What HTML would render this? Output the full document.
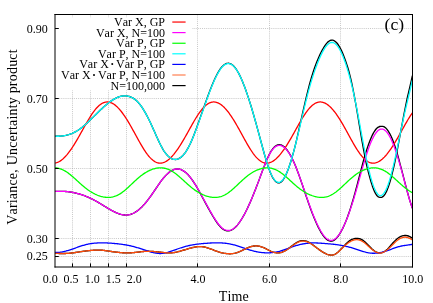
<!DOCTYPE html>
<html><head><meta charset="utf-8"><title>chart</title>
<style>
html,body{margin:0;padding:0;background:#fff;}
body{width:433px;height:303px;position:relative;overflow:hidden;font-family:"Liberation Serif",serif;color:#000;font-kerning:none;}
</style></head><body>
<svg width="433" height="303" viewBox="0 0 433 303" style="position:absolute;left:0;top:0">
<rect x="0" y="0" width="433" height="303" fill="#fff"/>
<path d="M72.50,14.50 V267.00 M90.50,14.50 V267.00 M108.50,14.50 V267.00 M126.50,14.50 V267.00 M197.50,14.50 V267.00 M269.50,14.50 V267.00 M340.50,14.50 V267.00 M55.00,256.50 H412.50 M55.00,238.50 H412.50 M55.00,168.50 H412.50 M55.00,98.50 H412.50 M55.00,28.50 H412.50" stroke="#9a9a9a" stroke-width="1" stroke-dasharray="1 1.1" fill="none" opacity="0.55"/>
<clipPath id="cp"><rect x="55.00" y="14.50" width="357.50" height="252.50"/></clipPath>
<g clip-path="url(#cp)" fill="none" stroke-linejoin="round" stroke-linecap="butt">
<path d="M55.10,191.30 L55.85,191.30 L56.60,191.30 L57.35,191.30 L58.10,191.31 L58.85,191.31 L59.60,191.31 L60.35,191.31 L61.10,191.32 L61.85,191.33 L62.60,191.35 L63.35,191.37 L64.10,191.40 L64.85,191.44 L65.60,191.48 L66.35,191.53 L67.10,191.60 L67.85,191.67 L68.60,191.76 L69.35,191.85 L70.10,191.96 L70.85,192.07 L71.60,192.20 L72.35,192.34 L73.10,192.48 L73.85,192.64 L74.60,192.80 L75.35,192.97 L76.10,193.15 L76.85,193.34 L77.60,193.54 L78.35,193.75 L79.10,193.96 L79.85,194.19 L80.60,194.42 L81.35,194.65 L82.10,194.90 L82.85,195.16 L83.60,195.42 L84.35,195.69 L85.10,195.97 L85.85,196.27 L86.60,196.57 L87.35,196.88 L88.10,197.20 L88.85,197.52 L89.60,197.86 L90.35,198.21 L91.10,198.57 L91.85,198.94 L92.60,199.32 L93.35,199.71 L94.10,200.11 L94.85,200.52 L95.60,200.93 L96.35,201.35 L97.10,201.78 L97.85,202.21 L98.60,202.65 L99.35,203.10 L100.10,203.54 L100.85,204.00 L101.60,204.45 L102.35,204.91 L103.10,205.36 L103.85,205.82 L104.60,206.28 L105.35,206.74 L106.10,207.20 L106.85,207.65 L107.60,208.10 L108.35,208.55 L109.10,208.99 L109.85,209.42 L110.60,209.85 L111.35,210.27 L112.10,210.67 L112.85,211.07 L113.60,211.46 L114.35,211.83 L115.10,212.19 L115.85,212.53 L116.60,212.86 L117.35,213.17 L118.10,213.47 L118.85,213.74 L119.60,213.99 L120.35,214.22 L121.10,214.42 L121.85,214.60 L122.60,214.75 L123.35,214.87 L124.10,214.97 L124.85,215.03 L125.60,215.06 L126.35,215.05 L127.10,215.01 L127.85,214.93 L128.60,214.82 L129.35,214.67 L130.10,214.48 L130.85,214.26 L131.60,214.00 L132.35,213.70 L133.10,213.37 L133.85,213.01 L134.60,212.60 L135.35,212.16 L136.10,211.69 L136.85,211.18 L137.60,210.64 L138.35,210.06 L139.10,209.45 L139.85,208.80 L140.60,208.12 L141.35,207.40 L142.10,206.66 L142.85,205.88 L143.60,205.07 L144.35,204.24 L145.10,203.37 L145.85,202.48 L146.60,201.57 L147.35,200.63 L148.10,199.66 L148.85,198.67 L149.60,197.66 L150.35,196.63 L151.10,195.58 L151.85,194.51 L152.60,193.43 L153.35,192.33 L154.10,191.22 L154.85,190.11 L155.60,189.00 L156.35,187.89 L157.10,186.78 L157.85,185.68 L158.60,184.60 L159.35,183.53 L160.10,182.47 L160.85,181.44 L161.60,180.44 L162.35,179.46 L163.10,178.52 L163.85,177.61 L164.60,176.74 L165.35,175.91 L166.10,175.12 L166.85,174.37 L167.60,173.66 L168.35,172.99 L169.10,172.38 L169.85,171.81 L170.60,171.28 L171.35,170.81 L172.10,170.39 L172.85,170.02 L173.60,169.71 L174.35,169.45 L175.10,169.25 L175.85,169.11 L176.60,169.02 L177.35,168.99 L178.10,169.02 L178.85,169.11 L179.60,169.26 L180.35,169.46 L181.10,169.72 L181.85,170.03 L182.60,170.41 L183.35,170.84 L184.10,171.32 L184.85,171.86 L185.60,172.46 L186.35,173.11 L187.10,173.82 L187.85,174.58 L188.60,175.39 L189.35,176.26 L190.10,177.17 L190.85,178.13 L191.60,179.13 L192.35,180.17 L193.10,181.25 L193.85,182.37 L194.60,183.52 L195.35,184.70 L196.10,185.93 L196.85,187.19 L197.60,188.49 L198.35,189.82 L199.10,191.17 L199.85,192.54 L200.60,193.93 L201.35,195.33 L202.10,196.73 L202.85,198.14 L203.60,199.54 L204.35,200.94 L205.10,202.32 L205.85,203.69 L206.60,205.07 L207.35,206.44 L208.10,207.80 L208.85,209.16 L209.60,210.50 L210.35,211.83 L211.10,213.15 L211.85,214.45 L212.60,215.73 L213.35,216.98 L214.10,218.21 L214.85,219.40 L215.60,220.56 L216.35,221.67 L217.10,222.74 L217.85,223.76 L218.60,224.73 L219.35,225.64 L220.10,226.50 L220.85,227.28 L221.60,227.99 L222.35,228.62 L223.10,229.17 L223.85,229.64 L224.60,230.03 L225.35,230.34 L226.10,230.57 L226.85,230.72 L227.60,230.80 L228.35,230.80 L229.10,230.72 L229.85,230.57 L230.60,230.35 L231.35,230.04 L232.10,229.67 L232.85,229.22 L233.60,228.70 L234.35,228.11 L235.10,227.46 L235.85,226.73 L236.60,225.94 L237.35,225.09 L238.10,224.18 L238.85,223.21 L239.60,222.18 L240.35,221.09 L241.10,219.96 L241.85,218.76 L242.60,217.51 L243.35,216.21 L244.10,214.86 L244.85,213.46 L245.60,212.01 L246.35,210.52 L247.10,208.98 L247.85,207.41 L248.60,205.79 L249.35,204.13 L250.10,202.44 L250.85,200.71 L251.60,198.95 L252.35,197.16 L253.10,195.33 L253.85,193.48 L254.60,191.61 L255.35,189.70 L256.10,187.78 L256.85,185.83 L257.60,183.87 L258.35,181.88 L259.10,179.89 L259.85,177.87 L260.60,175.85 L261.35,173.84 L262.10,171.83 L262.85,169.84 L263.60,167.87 L264.35,165.92 L265.10,164.01 L265.85,162.15 L266.60,160.34 L267.35,158.60 L268.10,156.94 L268.85,155.35 L269.60,153.87 L270.35,152.49 L271.10,151.22 L271.85,150.07 L272.60,149.04 L273.35,148.12 L274.10,147.32 L274.85,146.63 L275.60,146.04 L276.35,145.57 L277.10,145.20 L277.85,144.94 L278.60,144.79 L279.35,144.75 L280.10,144.80 L280.85,144.97 L281.60,145.23 L282.35,145.60 L283.10,146.07 L283.85,146.63 L284.60,147.29 L285.35,148.03 L286.10,148.86 L286.85,149.78 L287.60,150.77 L288.35,151.85 L289.10,153.00 L289.85,154.24 L290.60,155.55 L291.35,156.94 L292.10,158.41 L292.85,159.96 L293.60,161.58 L294.35,163.27 L295.10,165.03 L295.85,166.86 L296.60,168.76 L297.35,170.72 L298.10,172.73 L298.85,174.79 L299.60,176.89 L300.35,179.02 L301.10,181.18 L301.85,183.37 L302.60,185.58 L303.35,187.79 L304.10,190.02 L304.85,192.24 L305.60,194.46 L306.35,196.67 L307.10,198.86 L307.85,201.04 L308.60,203.19 L309.35,205.31 L310.10,207.40 L310.85,209.46 L311.60,211.48 L312.35,213.45 L313.10,215.38 L313.85,217.26 L314.60,219.09 L315.35,220.86 L316.10,222.57 L316.85,224.22 L317.60,225.81 L318.35,227.34 L319.10,228.81 L319.85,230.21 L320.60,231.54 L321.35,232.79 L322.10,233.98 L322.85,235.08 L323.60,236.10 L324.35,237.04 L325.10,237.89 L325.85,238.65 L326.60,239.31 L327.35,239.87 L328.10,240.34 L328.85,240.70 L329.60,240.95 L330.35,241.10 L331.10,241.13 L331.85,241.05 L332.60,240.86 L333.35,240.55 L334.10,240.13 L334.85,239.60 L335.60,238.98 L336.35,238.25 L337.10,237.42 L337.85,236.50 L338.60,235.49 L339.35,234.38 L340.10,233.19 L340.85,231.92 L341.60,230.55 L342.35,229.11 L343.10,227.58 L343.85,225.97 L344.60,224.27 L345.35,222.50 L346.10,220.65 L346.85,218.71 L347.60,216.69 L348.35,214.60 L349.10,212.43 L349.85,210.19 L350.60,207.88 L351.35,205.51 L352.10,203.07 L352.85,200.55 L353.60,197.96 L354.35,195.29 L355.10,192.56 L355.85,189.78 L356.60,186.96 L357.35,184.11 L358.10,181.24 L358.85,178.36 L359.60,175.47 L360.35,172.57 L361.10,169.69 L361.85,166.84 L362.60,164.03 L363.35,161.28 L364.10,158.61 L364.85,156.01 L365.60,153.47 L366.35,151.02 L367.10,148.66 L367.85,146.41 L368.60,144.28 L369.35,142.24 L370.10,140.29 L370.85,138.45 L371.60,136.71 L372.35,135.08 L373.10,133.60 L373.85,132.26 L374.60,131.06 L375.35,129.99 L376.10,129.04 L376.85,128.23 L377.60,127.60 L378.35,127.11 L379.10,126.75 L379.85,126.52 L380.60,126.38 L381.35,126.33 L382.10,126.35 L382.85,126.42 L383.60,126.60 L384.35,126.93 L385.10,127.44 L385.85,128.11 L386.60,128.91 L387.35,129.83 L388.10,130.87 L388.85,132.04 L389.60,133.33 L390.35,134.74 L391.10,136.28 L391.85,137.96 L392.60,139.76 L393.35,141.67 L394.10,143.70 L394.85,145.86 L395.60,148.16 L396.35,150.58 L397.10,153.08 L397.85,155.72 L398.60,158.46 L399.35,161.26 L400.10,164.07 L400.85,166.88 L401.60,169.73 L402.35,172.60 L403.10,175.50 L403.85,178.41 L404.60,181.32 L405.35,184.22 L406.10,187.10 L406.85,189.93 L407.60,192.72 L408.35,195.44 L409.10,198.07 L409.85,200.60 L410.60,203.01 L411.35,205.29 L412.40,208.22" stroke="#000" stroke-width="1.35"/>
<path d="M55.10,136.17 L55.85,136.21 L56.60,136.24 L57.35,136.25 L58.10,136.25 L58.85,136.24 L59.60,136.20 L60.35,136.16 L61.10,136.10 L61.85,136.02 L62.60,135.93 L63.35,135.82 L64.10,135.69 L64.85,135.55 L65.60,135.40 L66.35,135.23 L67.10,135.04 L67.85,134.84 L68.60,134.62 L69.35,134.38 L70.10,134.12 L70.85,133.85 L71.60,133.56 L72.35,133.25 L73.10,132.92 L73.85,132.57 L74.60,132.20 L75.35,131.81 L76.10,131.40 L76.85,130.97 L77.60,130.51 L78.35,130.04 L79.10,129.53 L79.85,129.01 L80.60,128.46 L81.35,127.89 L82.10,127.30 L82.85,126.68 L83.60,126.06 L84.35,125.41 L85.10,124.75 L85.85,124.07 L86.60,123.39 L87.35,122.69 L88.10,121.98 L88.85,121.26 L89.60,120.54 L90.35,119.81 L91.10,119.08 L91.85,118.34 L92.60,117.61 L93.35,116.87 L94.10,116.13 L94.85,115.39 L95.60,114.66 L96.35,113.92 L97.10,113.19 L97.85,112.46 L98.60,111.74 L99.35,111.02 L100.10,110.30 L100.85,109.60 L101.60,108.90 L102.35,108.20 L103.10,107.52 L103.85,106.85 L104.60,106.18 L105.35,105.53 L106.10,104.89 L106.85,104.27 L107.60,103.65 L108.35,103.06 L109.10,102.48 L109.85,101.92 L110.60,101.37 L111.35,100.85 L112.10,100.35 L112.85,99.86 L113.60,99.41 L114.35,98.97 L115.10,98.56 L115.85,98.18 L116.60,97.82 L117.35,97.49 L118.10,97.19 L118.85,96.92 L119.60,96.67 L120.35,96.46 L121.10,96.28 L121.85,96.12 L122.60,96.01 L123.35,95.92 L124.10,95.87 L124.85,95.85 L125.60,95.87 L126.35,95.92 L127.10,96.01 L127.85,96.14 L128.60,96.30 L129.35,96.51 L130.10,96.75 L130.85,97.04 L131.60,97.37 L132.35,97.75 L133.10,98.17 L133.85,98.65 L134.60,99.17 L135.35,99.74 L136.10,100.37 L136.85,101.05 L137.60,101.79 L138.35,102.59 L139.10,103.44 L139.85,104.36 L140.60,105.34 L141.35,106.37 L142.10,107.46 L142.85,108.61 L143.60,109.80 L144.35,111.05 L145.10,112.34 L145.85,113.69 L146.60,115.07 L147.35,116.50 L148.10,117.96 L148.85,119.47 L149.60,121.01 L150.35,122.58 L151.10,124.19 L151.85,125.82 L152.60,127.49 L153.35,129.16 L154.10,130.85 L154.85,132.55 L155.60,134.24 L156.35,135.93 L157.10,137.59 L157.85,139.24 L158.60,140.85 L159.35,142.43 L160.10,143.97 L160.85,145.45 L161.60,146.88 L162.35,148.25 L163.10,149.54 L163.85,150.76 L164.60,151.89 L165.35,152.94 L166.10,153.92 L166.85,154.81 L167.60,155.62 L168.35,156.36 L169.10,157.02 L169.85,157.59 L170.60,158.10 L171.35,158.52 L172.10,158.87 L172.85,159.14 L173.60,159.33 L174.35,159.45 L175.10,159.49 L175.85,159.46 L176.60,159.35 L177.35,159.17 L178.10,158.92 L178.85,158.58 L179.60,158.17 L180.35,157.68 L181.10,157.12 L181.85,156.47 L182.60,155.74 L183.35,154.94 L184.10,154.05 L184.85,153.08 L185.60,152.03 L186.35,150.90 L187.10,149.68 L187.85,148.38 L188.60,146.99 L189.35,145.53 L190.10,144.00 L190.85,142.38 L191.60,140.69 L192.35,138.92 L193.10,137.09 L193.85,135.20 L194.60,133.25 L195.35,131.27 L196.10,129.24 L196.85,127.18 L197.60,125.09 L198.35,122.99 L199.10,120.88 L199.85,118.76 L200.60,116.64 L201.35,114.51 L202.10,112.37 L202.85,110.23 L203.60,108.09 L204.35,105.96 L205.10,103.83 L205.85,101.72 L206.60,99.63 L207.35,97.55 L208.10,95.50 L208.85,93.48 L209.60,91.50 L210.35,89.54 L211.10,87.63 L211.85,85.77 L212.60,83.95 L213.35,82.18 L214.10,80.47 L214.85,78.82 L215.60,77.23 L216.35,75.71 L217.10,74.26 L217.85,72.88 L218.60,71.59 L219.35,70.37 L220.10,69.24 L220.85,68.20 L221.60,67.26 L222.35,66.41 L223.10,65.65 L223.85,65.00 L224.60,64.46 L225.35,64.01 L226.10,63.67 L226.85,63.44 L227.60,63.31 L228.35,63.28 L229.10,63.35 L229.85,63.54 L230.60,63.82 L231.35,64.21 L232.10,64.71 L232.85,65.31 L233.60,66.01 L234.35,66.81 L235.10,67.71 L235.85,68.72 L236.60,69.82 L237.35,71.01 L238.10,72.30 L238.85,73.67 L239.60,75.13 L240.35,76.67 L241.10,78.29 L241.85,80.00 L242.60,81.77 L243.35,83.63 L244.10,85.55 L244.85,87.54 L245.60,89.60 L246.35,91.72 L247.10,93.89 L247.85,96.13 L248.60,98.41 L249.35,100.75 L250.10,103.14 L250.85,105.57 L251.60,108.04 L252.35,110.56 L253.10,113.11 L253.85,115.70 L254.60,118.33 L255.35,120.98 L256.10,123.66 L256.85,126.37 L257.60,129.10 L258.35,131.85 L259.10,134.63 L259.85,137.41 L260.60,140.21 L261.35,143.00 L262.10,145.78 L262.85,148.54 L263.60,151.27 L264.35,153.96 L265.10,156.59 L265.85,159.16 L266.60,161.65 L267.35,164.05 L268.10,166.35 L268.85,168.53 L269.60,170.59 L270.35,172.51 L271.10,174.27 L271.85,175.88 L272.60,177.32 L273.35,178.59 L274.10,179.70 L274.85,180.64 L275.60,181.42 L276.35,182.03 L277.10,182.47 L277.85,182.74 L278.60,182.85 L279.35,182.77 L280.10,182.53 L280.85,182.11 L281.60,181.51 L282.35,180.74 L283.10,179.80 L283.85,178.69 L284.60,177.42 L285.35,176.00 L286.10,174.43 L286.85,172.71 L287.60,170.87 L288.35,168.90 L289.10,166.80 L289.85,164.59 L290.60,162.26 L291.35,159.83 L292.10,157.28 L292.85,154.64 L293.60,151.90 L294.35,149.07 L295.10,146.11 L295.85,143.04 L296.60,139.88 L297.35,136.64 L298.10,133.35 L298.85,130.02 L299.60,126.67 L300.35,123.32 L301.10,119.96 L301.85,116.58 L302.60,113.22 L303.35,109.87 L304.10,106.56 L304.85,103.28 L305.60,100.07 L306.35,96.92 L307.10,93.82 L307.85,90.79 L308.60,87.85 L309.35,84.99 L310.10,82.22 L310.85,79.56 L311.60,77.01 L312.35,74.58 L313.10,72.24 L313.85,69.97 L314.60,67.78 L315.35,65.67 L316.10,63.64 L316.85,61.71 L317.60,59.90 L318.35,58.18 L319.10,56.52 L319.85,54.90 L320.60,53.32 L321.35,51.80 L322.10,50.37 L322.85,49.00 L323.60,47.72 L324.35,46.52 L325.10,45.40 L325.85,44.36 L326.60,43.42 L327.35,42.58 L328.10,41.86 L328.85,41.26 L329.60,40.79 L330.35,40.44 L331.10,40.22 L331.85,40.14 L332.60,40.20 L333.35,40.39 L334.10,40.71 L334.85,41.16 L335.60,41.74 L336.35,42.45 L337.10,43.28 L337.85,44.24 L338.60,45.33 L339.35,46.53 L340.10,47.86 L340.85,49.30 L341.60,50.86 L342.35,52.52 L343.10,54.30 L343.85,56.18 L344.60,58.15 L345.35,60.22 L346.10,62.38 L346.85,64.64 L347.60,67.02 L348.35,69.53 L349.10,72.18 L349.85,75.06 L350.60,78.20 L351.35,81.51 L352.10,84.95 L352.85,88.54 L353.60,92.32 L354.35,96.25 L355.10,100.28 L355.85,104.44 L356.60,108.71 L357.35,113.07 L358.10,117.50 L358.85,122.02 L359.60,126.62 L360.35,131.21 L361.10,135.72 L361.85,140.07 L362.60,144.25 L363.35,148.36 L364.10,152.40 L364.85,156.33 L365.60,160.13 L366.35,163.76 L367.10,167.08 L367.85,170.15 L368.60,173.07 L369.35,175.93 L370.10,178.65 L370.85,181.22 L371.60,183.64 L372.35,185.90 L373.10,187.99 L373.85,189.91 L374.60,191.63 L375.35,193.15 L376.10,194.45 L376.85,195.49 L377.60,196.29 L378.35,196.86 L379.10,197.22 L379.85,197.41 L380.60,197.44 L381.35,197.35 L382.10,197.10 L382.85,196.67 L383.60,196.04 L384.35,195.17 L385.10,194.04 L385.85,192.68 L386.60,191.12 L387.35,189.37 L388.10,187.42 L388.85,185.28 L389.60,182.96 L390.35,180.44 L391.10,177.76 L391.85,174.91 L392.60,171.91 L393.35,168.76 L394.10,165.49 L394.85,162.05 L395.60,158.42 L396.35,154.67 L397.10,150.85 L397.85,146.95 L398.60,142.98 L399.35,138.95 L400.10,134.90 L400.85,130.85 L401.60,126.81 L402.35,122.76 L403.10,118.76 L403.85,114.87 L404.60,111.06 L405.35,107.26 L406.10,103.53 L406.85,99.92 L407.60,96.50 L408.35,93.30 L409.10,90.13 L409.85,86.94 L410.60,83.71 L411.35,80.44 L412.40,75.77" stroke="#000" stroke-width="1.35"/>
<path d="M55.10,253.40 L55.85,253.40 L56.60,253.41 L57.35,253.43 L58.10,253.44 L58.85,253.46 L59.60,253.48 L60.35,253.50 L61.10,253.51 L61.85,253.52 L62.60,253.53 L63.35,253.53 L64.10,253.53 L64.85,253.51 L65.60,253.49 L66.35,253.45 L67.10,253.41 L67.85,253.36 L68.60,253.30 L69.35,253.24 L70.10,253.16 L70.85,253.08 L71.60,253.00 L72.35,252.91 L73.10,252.81 L73.85,252.71 L74.60,252.61 L75.35,252.50 L76.10,252.39 L76.85,252.28 L77.60,252.16 L78.35,252.05 L79.10,251.93 L79.85,251.82 L80.60,251.70 L81.35,251.59 L82.10,251.48 L82.85,251.37 L83.60,251.27 L84.35,251.17 L85.10,251.07 L85.85,250.97 L86.60,250.88 L87.35,250.80 L88.10,250.72 L88.85,250.64 L89.60,250.56 L90.35,250.49 L91.10,250.42 L91.85,250.36 L92.60,250.30 L93.35,250.24 L94.10,250.19 L94.85,250.15 L95.60,250.11 L96.35,250.08 L97.10,250.06 L97.85,250.05 L98.60,250.05 L99.35,250.07 L100.10,250.09 L100.85,250.13 L101.60,250.18 L102.35,250.25 L103.10,250.32 L103.85,250.41 L104.60,250.50 L105.35,250.60 L106.10,250.71 L106.85,250.82 L107.60,250.94 L108.35,251.05 L109.10,251.17 L109.85,251.28 L110.60,251.39 L111.35,251.50 L112.10,251.61 L112.85,251.71 L113.60,251.81 L114.35,251.91 L115.10,252.00 L115.85,252.09 L116.60,252.18 L117.35,252.26 L118.10,252.34 L118.85,252.42 L119.60,252.49 L120.35,252.56 L121.10,252.62 L121.85,252.68 L122.60,252.74 L123.35,252.78 L124.10,252.82 L124.85,252.85 L125.60,252.88 L126.35,252.89 L127.10,252.90 L127.85,252.90 L128.60,252.88 L129.35,252.86 L130.10,252.83 L130.85,252.79 L131.60,252.74 L132.35,252.68 L133.10,252.62 L133.85,252.55 L134.60,252.48 L135.35,252.40 L136.10,252.32 L136.85,252.24 L137.60,252.15 L138.35,252.05 L139.10,251.96 L139.85,251.87 L140.60,251.78 L141.35,251.70 L142.10,251.62 L142.85,251.54 L143.60,251.48 L144.35,251.42 L145.10,251.37 L145.85,251.33 L146.60,251.30 L147.35,251.29 L148.10,251.29 L148.85,251.29 L149.60,251.31 L150.35,251.33 L151.10,251.37 L151.85,251.41 L152.60,251.46 L153.35,251.51 L154.10,251.58 L154.85,251.64 L155.60,251.71 L156.35,251.79 L157.10,251.86 L157.85,251.94 L158.60,252.03 L159.35,252.11 L160.10,252.19 L160.85,252.27 L161.60,252.35 L162.35,252.43 L163.10,252.50 L163.85,252.58 L164.60,252.64 L165.35,252.70 L166.10,252.76 L166.85,252.80 L167.60,252.84 L168.35,252.87 L169.10,252.88 L169.85,252.88 L170.60,252.86 L171.35,252.82 L172.10,252.77 L172.85,252.70 L173.60,252.61 L174.35,252.50 L175.10,252.37 L175.85,252.23 L176.60,252.07 L177.35,251.90 L178.10,251.71 L178.85,251.52 L179.60,251.32 L180.35,251.11 L181.10,250.90 L181.85,250.68 L182.60,250.46 L183.35,250.24 L184.10,250.02 L184.85,249.79 L185.60,249.57 L186.35,249.35 L187.10,249.12 L187.85,248.90 L188.60,248.69 L189.35,248.47 L190.10,248.26 L190.85,248.06 L191.60,247.86 L192.35,247.67 L193.10,247.48 L193.85,247.31 L194.60,247.15 L195.35,247.01 L196.10,246.88 L196.85,246.77 L197.60,246.68 L198.35,246.62 L199.10,246.58 L199.85,246.56 L200.60,246.58 L201.35,246.62 L202.10,246.69 L202.85,246.78 L203.60,246.89 L204.35,247.03 L205.10,247.19 L205.85,247.37 L206.60,247.57 L207.35,247.79 L208.10,248.02 L208.85,248.27 L209.60,248.54 L210.35,248.81 L211.10,249.10 L211.85,249.39 L212.60,249.69 L213.35,249.99 L214.10,250.29 L214.85,250.58 L215.60,250.87 L216.35,251.15 L217.10,251.42 L217.85,251.68 L218.60,251.93 L219.35,252.15 L220.10,252.36 L220.85,252.56 L221.60,252.74 L222.35,252.91 L223.10,253.06 L223.85,253.20 L224.60,253.32 L225.35,253.42 L226.10,253.52 L226.85,253.59 L227.60,253.65 L228.35,253.70 L229.10,253.73 L229.85,253.74 L230.60,253.73 L231.35,253.69 L232.10,253.64 L232.85,253.56 L233.60,253.45 L234.35,253.32 L235.10,253.15 L235.85,252.96 L236.60,252.74 L237.35,252.49 L238.10,252.22 L238.85,251.92 L239.60,251.60 L240.35,251.27 L241.10,250.93 L241.85,250.58 L242.60,250.22 L243.35,249.86 L244.10,249.49 L244.85,249.14 L245.60,248.78 L246.35,248.44 L247.10,248.11 L247.85,247.79 L248.60,247.49 L249.35,247.20 L250.10,246.94 L250.85,246.70 L251.60,246.49 L252.35,246.31 L253.10,246.16 L253.85,246.04 L254.60,245.96 L255.35,245.92 L256.10,245.91 L256.85,245.94 L257.60,246.00 L258.35,246.09 L259.10,246.22 L259.85,246.38 L260.60,246.57 L261.35,246.79 L262.10,247.05 L262.85,247.33 L263.60,247.65 L264.35,247.98 L265.10,248.34 L265.85,248.71 L266.60,249.09 L267.35,249.48 L268.10,249.86 L268.85,250.24 L269.60,250.61 L270.35,250.97 L271.10,251.30 L271.85,251.61 L272.60,251.89 L273.35,252.14 L274.10,252.35 L274.85,252.53 L275.60,252.67 L276.35,252.78 L277.10,252.84 L277.85,252.87 L278.60,252.85 L279.35,252.79 L280.10,252.68 L280.85,252.52 L281.60,252.31 L282.35,252.05 L283.10,251.74 L283.85,251.39 L284.60,251.01 L285.35,250.58 L286.10,250.12 L286.85,249.64 L287.60,249.13 L288.35,248.60 L289.10,248.05 L289.85,247.48 L290.60,246.90 L291.35,246.32 L292.10,245.75 L292.85,245.17 L293.60,244.61 L294.35,244.06 L295.10,243.53 L295.85,243.03 L296.60,242.57 L297.35,242.14 L298.10,241.76 L298.85,241.43 L299.60,241.16 L300.35,240.94 L301.10,240.78 L301.85,240.68 L302.60,240.63 L303.35,240.64 L304.10,240.70 L304.85,240.82 L305.60,240.99 L306.35,241.21 L307.10,241.48 L307.85,241.80 L308.60,242.17 L309.35,242.57 L310.10,243.01 L310.85,243.49 L311.60,243.99 L312.35,244.51 L313.10,245.05 L313.85,245.61 L314.60,246.18 L315.35,246.76 L316.10,247.34 L316.85,247.92 L317.60,248.49 L318.35,249.06 L319.10,249.61 L319.85,250.15 L320.60,250.67 L321.35,251.18 L322.10,251.66 L322.85,252.12 L323.60,252.56 L324.35,252.97 L325.10,253.35 L325.85,253.71 L326.60,254.04 L327.35,254.33 L328.10,254.58 L328.85,254.78 L329.60,254.94 L330.35,255.04 L331.10,255.09 L331.85,255.07 L332.60,254.98 L333.35,254.82 L334.10,254.57 L334.85,254.25 L335.60,253.84 L336.35,253.35 L337.10,252.80 L337.85,252.18 L338.60,251.52 L339.35,250.81 L340.10,250.08 L340.85,249.31 L341.60,248.53 L342.35,247.72 L343.10,246.92 L343.85,246.13 L344.60,245.35 L345.35,244.59 L346.10,243.83 L346.85,243.08 L347.60,242.37 L348.35,241.72 L349.10,241.12 L349.85,240.56 L350.60,240.07 L351.35,239.66 L352.10,239.32 L352.85,239.03 L353.60,238.80 L354.35,238.61 L355.10,238.48 L355.85,238.40 L356.60,238.37 L357.35,238.39 L358.10,238.46 L358.85,238.58 L359.60,238.75 L360.35,238.99 L361.10,239.29 L361.85,239.65 L362.60,240.09 L363.35,240.59 L364.10,241.19 L364.85,241.84 L365.60,242.53 L366.35,243.22 L367.10,243.94 L367.85,244.67 L368.60,245.42 L369.35,246.22 L370.10,247.05 L370.85,247.85 L371.60,248.60 L372.35,249.27 L373.10,249.88 L373.85,250.46 L374.60,250.99 L375.35,251.47 L376.10,251.89 L376.85,252.24 L377.60,252.53 L378.35,252.75 L379.10,252.88 L379.85,252.94 L380.60,252.90 L381.35,252.78 L382.10,252.57 L382.85,252.29 L383.60,251.94 L384.35,251.51 L385.10,251.03 L385.85,250.49 L386.60,249.88 L387.35,249.19 L388.10,248.44 L388.85,247.63 L389.60,246.78 L390.35,245.91 L391.10,245.03 L391.85,244.17 L392.60,243.31 L393.35,242.47 L394.10,241.65 L394.85,240.87 L395.60,240.13 L396.35,239.43 L397.10,238.79 L397.85,238.21 L398.60,237.68 L399.35,237.20 L400.10,236.79 L400.85,236.42 L401.60,236.12 L402.35,235.87 L403.10,235.69 L403.85,235.55 L404.60,235.46 L405.35,235.43 L406.10,235.47 L406.85,235.57 L407.60,235.74 L408.35,235.99 L409.10,236.29 L409.85,236.64 L410.60,237.05 L411.35,237.59 L412.40,238.51" stroke="#000" stroke-width="1.35"/>
<path d="M55.10,163.02 L55.85,162.88 L56.60,162.69 L57.35,162.43 L58.10,162.12 L58.85,161.76 L59.60,161.34 L60.35,160.88 L61.10,160.36 L61.85,159.79 L62.60,159.17 L63.35,158.51 L64.10,157.80 L64.85,157.05 L65.60,156.26 L66.35,155.42 L67.10,154.55 L67.85,153.63 L68.60,152.68 L69.35,151.69 L70.10,150.66 L70.85,149.61 L71.60,148.52 L72.35,147.40 L73.10,146.25 L73.85,145.07 L74.60,143.87 L75.35,142.64 L76.10,141.39 L76.85,140.12 L77.60,138.83 L78.35,137.53 L79.10,136.21 L79.85,134.88 L80.60,133.54 L81.35,132.19 L82.10,130.84 L82.85,129.49 L83.60,128.14 L84.35,126.80 L85.10,125.46 L85.85,124.13 L86.60,122.81 L87.35,121.51 L88.10,120.23 L88.85,118.98 L89.60,117.75 L90.35,116.54 L91.10,115.37 L91.85,114.23 L92.60,113.13 L93.35,112.07 L94.10,111.06 L94.85,110.08 L95.60,109.16 L96.35,108.28 L97.10,107.46 L97.85,106.68 L98.60,105.97 L99.35,105.30 L100.10,104.70 L100.85,104.16 L101.60,103.67 L102.35,103.24 L103.10,102.88 L103.85,102.58 L104.60,102.33 L105.35,102.15 L106.10,102.03 L106.85,101.97 L107.60,101.97 L108.35,102.03 L109.10,102.15 L109.85,102.33 L110.60,102.56 L111.35,102.85 L112.10,103.20 L112.85,103.60 L113.60,104.06 L114.35,104.56 L115.10,105.12 L115.85,105.73 L116.60,106.39 L117.35,107.09 L118.10,107.84 L118.85,108.64 L119.60,109.47 L120.35,110.35 L121.10,111.28 L121.85,112.24 L122.60,113.24 L123.35,114.27 L124.10,115.34 L124.85,116.45 L125.60,117.58 L126.35,118.75 L127.10,119.95 L127.85,121.17 L128.60,122.42 L129.35,123.69 L130.10,124.98 L130.85,126.29 L131.60,127.62 L132.35,128.96 L133.10,130.31 L133.85,131.67 L134.60,133.04 L135.35,134.41 L136.10,135.78 L136.85,137.15 L137.60,138.52 L138.35,139.87 L139.10,141.21 L139.85,142.54 L140.60,143.85 L141.35,145.14 L142.10,146.41 L142.85,147.65 L143.60,148.85 L144.35,150.03 L145.10,151.17 L145.85,152.27 L146.60,153.32 L147.35,154.34 L148.10,155.30 L148.85,156.22 L149.60,157.08 L150.35,157.90 L151.10,158.66 L151.85,159.36 L152.60,160.00 L153.35,160.59 L154.10,161.11 L154.85,161.58 L155.60,161.98 L156.35,162.33 L157.10,162.61 L157.85,162.83 L158.60,162.99 L159.35,163.09 L160.10,163.13 L160.85,163.11 L161.60,163.02 L162.35,162.89 L163.10,162.69 L163.85,162.44 L164.60,162.13 L165.35,161.77 L166.10,161.35 L166.85,160.88 L167.60,160.37 L168.35,159.80 L169.10,159.18 L169.85,158.52 L170.60,157.82 L171.35,157.06 L172.10,156.27 L172.85,155.43 L173.60,154.56 L174.35,153.64 L175.10,152.69 L175.85,151.70 L176.60,150.68 L177.35,149.62 L178.10,148.53 L178.85,147.41 L179.60,146.26 L180.35,145.09 L181.10,143.88 L181.85,142.66 L182.60,141.41 L183.35,140.14 L184.10,138.85 L184.85,137.55 L185.60,136.23 L186.35,134.90 L187.10,133.56 L187.85,132.21 L188.60,130.86 L189.35,129.51 L190.10,128.16 L190.85,126.82 L191.60,125.48 L192.35,124.15 L193.10,122.83 L193.85,121.53 L194.60,120.25 L195.35,119.00 L196.10,117.76 L196.85,116.56 L197.60,115.39 L198.35,114.25 L199.10,113.15 L199.85,112.09 L200.60,111.07 L201.35,110.10 L202.10,109.17 L202.85,108.29 L203.60,107.47 L204.35,106.69 L205.10,105.98 L205.85,105.31 L206.60,104.71 L207.35,104.16 L208.10,103.68 L208.85,103.25 L209.60,102.88 L210.35,102.58 L211.10,102.34 L211.85,102.15 L212.60,102.03 L213.35,101.97 L214.10,101.97 L214.85,102.03 L215.60,102.15 L216.35,102.32 L217.10,102.56 L217.85,102.85 L218.60,103.20 L219.35,103.60 L220.10,104.05 L220.85,104.56 L221.60,105.11 L222.35,105.72 L223.10,106.38 L223.85,107.08 L224.60,107.83 L225.35,108.62 L226.10,109.46 L226.85,110.34 L227.60,111.26 L228.35,112.22 L229.10,113.22 L229.85,114.26 L230.60,115.33 L231.35,116.43 L232.10,117.57 L232.85,118.73 L233.60,119.93 L234.35,121.15 L235.10,122.40 L235.85,123.67 L236.60,124.96 L237.35,126.27 L238.10,127.60 L238.85,128.94 L239.60,130.29 L240.35,131.65 L241.10,133.02 L241.85,134.39 L242.60,135.76 L243.35,137.13 L244.10,138.50 L244.85,139.85 L245.60,141.19 L246.35,142.52 L247.10,143.83 L247.85,145.12 L248.60,146.39 L249.35,147.63 L250.10,148.84 L250.85,150.01 L251.60,151.15 L252.35,152.25 L253.10,153.31 L253.85,154.32 L254.60,155.29 L255.35,156.21 L256.10,157.07 L256.85,157.89 L257.60,158.64 L258.35,159.35 L259.10,159.99 L259.85,160.58 L260.60,161.11 L261.35,161.57 L262.10,161.98 L262.85,162.32 L263.60,162.61 L264.35,162.83 L265.10,162.99 L265.85,163.09 L266.60,163.13 L267.35,163.11 L268.10,163.03 L268.85,162.89 L269.60,162.69 L270.35,162.44 L271.10,162.13 L271.85,161.77 L272.60,161.36 L273.35,160.89 L274.10,160.37 L274.85,159.81 L275.60,159.19 L276.35,158.53 L277.10,157.83 L277.85,157.08 L278.60,156.28 L279.35,155.45 L280.10,154.57 L280.85,153.66 L281.60,152.71 L282.35,151.72 L283.10,150.69 L283.85,149.64 L284.60,148.55 L285.35,147.43 L286.10,146.28 L286.85,145.10 L287.60,143.90 L288.35,142.68 L289.10,141.43 L289.85,140.16 L290.60,138.87 L291.35,137.57 L292.10,136.25 L292.85,134.92 L293.60,133.58 L294.35,132.23 L295.10,130.88 L295.85,129.53 L296.60,128.18 L297.35,126.84 L298.10,125.50 L298.85,124.17 L299.60,122.85 L300.35,121.55 L301.10,120.27 L301.85,119.01 L302.60,117.78 L303.35,116.58 L304.10,115.41 L304.85,114.27 L305.60,113.17 L306.35,112.11 L307.10,111.09 L307.85,110.11 L308.60,109.18 L309.35,108.31 L310.10,107.48 L310.85,106.71 L311.60,105.99 L312.35,105.32 L313.10,104.72 L313.85,104.17 L314.60,103.68 L315.35,103.26 L316.10,102.89 L316.85,102.58 L317.60,102.34 L318.35,102.16 L319.10,102.03 L319.85,101.97 L320.60,101.97 L321.35,102.03 L322.10,102.15 L322.85,102.32 L323.60,102.55 L324.35,102.84 L325.10,103.19 L325.85,103.59 L326.60,104.04 L327.35,104.55 L328.10,105.11 L328.85,105.71 L329.60,106.37 L330.35,107.07 L331.10,107.82 L331.85,108.61 L332.60,109.45 L333.35,110.33 L334.10,111.25 L334.85,112.21 L335.60,113.21 L336.35,114.24 L337.10,115.31 L337.85,116.41 L338.60,117.55 L339.35,118.72 L340.10,119.91 L340.85,121.13 L341.60,122.38 L342.35,123.65 L343.10,124.94 L343.85,126.25 L344.60,127.58 L345.35,128.92 L346.10,130.27 L346.85,131.63 L347.60,133.00 L348.35,134.37 L349.10,135.74 L349.85,137.11 L350.60,138.47 L351.35,139.83 L352.10,141.17 L352.85,142.50 L353.60,143.81 L354.35,145.11 L355.10,146.37 L355.85,147.61 L356.60,148.82 L357.35,149.99 L358.10,151.13 L358.85,152.23 L359.60,153.29 L360.35,154.31 L361.10,155.27 L361.85,156.19 L362.60,157.06 L363.35,157.87 L364.10,158.63 L364.85,159.34 L365.60,159.98 L366.35,160.57 L367.10,161.10 L367.85,161.57 L368.60,161.97 L369.35,162.32 L370.10,162.60 L370.85,162.83 L371.60,162.99 L372.35,163.09 L373.10,163.13 L373.85,163.11 L374.60,163.03 L375.35,162.89 L376.10,162.70 L376.85,162.44 L377.60,162.14 L378.35,161.78 L379.10,161.36 L379.85,160.90 L380.60,160.38 L381.35,159.82 L382.10,159.20 L382.85,158.54 L383.60,157.84 L384.35,157.09 L385.10,156.29 L385.85,155.46 L386.60,154.59 L387.35,153.67 L388.10,152.72 L388.85,151.73 L389.60,150.71 L390.35,149.65 L391.10,148.57 L391.85,147.45 L392.60,146.30 L393.35,145.12 L394.10,143.92 L394.85,142.69 L395.60,141.45 L396.35,140.18 L397.10,138.89 L397.85,137.59 L398.60,136.27 L399.35,134.94 L400.10,133.60 L400.85,132.25 L401.60,130.90 L402.35,129.55 L403.10,128.20 L403.85,126.86 L404.60,125.52 L405.35,124.19 L406.10,122.87 L406.85,121.57 L407.60,120.29 L408.35,119.03 L409.10,117.80 L409.85,116.60 L410.60,115.42 L411.35,114.28 L412.40,112.75" stroke="#ff0000" stroke-width="1.30"/>
<path d="M55.10,191.30 L55.85,191.30 L56.60,191.30 L57.35,191.30 L58.10,191.31 L58.85,191.31 L59.60,191.31 L60.35,191.31 L61.10,191.32 L61.85,191.33 L62.60,191.35 L63.35,191.37 L64.10,191.40 L64.85,191.44 L65.60,191.48 L66.35,191.53 L67.10,191.60 L67.85,191.67 L68.60,191.76 L69.35,191.85 L70.10,191.96 L70.85,192.07 L71.60,192.20 L72.35,192.34 L73.10,192.48 L73.85,192.64 L74.60,192.80 L75.35,192.97 L76.10,193.15 L76.85,193.34 L77.60,193.54 L78.35,193.75 L79.10,193.96 L79.85,194.19 L80.60,194.42 L81.35,194.65 L82.10,194.90 L82.85,195.16 L83.60,195.42 L84.35,195.69 L85.10,195.97 L85.85,196.27 L86.60,196.57 L87.35,196.88 L88.10,197.20 L88.85,197.52 L89.60,197.86 L90.35,198.21 L91.10,198.57 L91.85,198.94 L92.60,199.32 L93.35,199.71 L94.10,200.11 L94.85,200.52 L95.60,200.93 L96.35,201.35 L97.10,201.78 L97.85,202.21 L98.60,202.65 L99.35,203.10 L100.10,203.54 L100.85,204.00 L101.60,204.45 L102.35,204.91 L103.10,205.36 L103.85,205.82 L104.60,206.28 L105.35,206.74 L106.10,207.20 L106.85,207.65 L107.60,208.10 L108.35,208.55 L109.10,208.99 L109.85,209.42 L110.60,209.85 L111.35,210.27 L112.10,210.67 L112.85,211.07 L113.60,211.46 L114.35,211.83 L115.10,212.19 L115.85,212.53 L116.60,212.86 L117.35,213.17 L118.10,213.47 L118.85,213.74 L119.60,213.99 L120.35,214.22 L121.10,214.42 L121.85,214.60 L122.60,214.75 L123.35,214.87 L124.10,214.97 L124.85,215.03 L125.60,215.06 L126.35,215.05 L127.10,215.01 L127.85,214.93 L128.60,214.82 L129.35,214.67 L130.10,214.48 L130.85,214.26 L131.60,214.00 L132.35,213.70 L133.10,213.37 L133.85,213.01 L134.60,212.60 L135.35,212.16 L136.10,211.69 L136.85,211.18 L137.60,210.64 L138.35,210.06 L139.10,209.45 L139.85,208.80 L140.60,208.12 L141.35,207.40 L142.10,206.66 L142.85,205.88 L143.60,205.07 L144.35,204.24 L145.10,203.37 L145.85,202.48 L146.60,201.57 L147.35,200.63 L148.10,199.66 L148.85,198.67 L149.60,197.66 L150.35,196.63 L151.10,195.58 L151.85,194.51 L152.60,193.43 L153.35,192.33 L154.10,191.22 L154.85,190.11 L155.60,189.00 L156.35,187.89 L157.10,186.78 L157.85,185.68 L158.60,184.60 L159.35,183.53 L160.10,182.47 L160.85,181.44 L161.60,180.44 L162.35,179.46 L163.10,178.52 L163.85,177.61 L164.60,176.74 L165.35,175.91 L166.10,175.12 L166.85,174.37 L167.60,173.66 L168.35,172.99 L169.10,172.38 L169.85,171.81 L170.60,171.28 L171.35,170.81 L172.10,170.39 L172.85,170.02 L173.60,169.71 L174.35,169.45 L175.10,169.25 L175.85,169.11 L176.60,169.02 L177.35,168.99 L178.10,169.02 L178.85,169.11 L179.60,169.26 L180.35,169.46 L181.10,169.72 L181.85,170.03 L182.60,170.41 L183.35,170.84 L184.10,171.32 L184.85,171.86 L185.60,172.46 L186.35,173.11 L187.10,173.82 L187.85,174.58 L188.60,175.39 L189.35,176.26 L190.10,177.17 L190.85,178.13 L191.60,179.13 L192.35,180.17 L193.10,181.25 L193.85,182.37 L194.60,183.52 L195.35,184.70 L196.10,185.91 L196.85,187.14 L197.60,188.40 L198.35,189.69 L199.10,190.99 L199.85,192.30 L200.60,193.64 L201.35,194.98 L202.10,196.34 L202.85,197.70 L203.60,199.07 L204.35,200.44 L205.10,201.82 L205.85,203.19 L206.60,204.57 L207.35,205.94 L208.10,207.30 L208.85,208.66 L209.60,210.00 L210.35,211.33 L211.10,212.65 L211.85,213.95 L212.60,215.23 L213.35,216.48 L214.10,217.71 L214.85,218.90 L215.60,220.06 L216.35,221.17 L217.10,222.24 L217.85,223.26 L218.60,224.23 L219.35,225.14 L220.10,226.00 L220.85,226.78 L221.60,227.50 L222.35,228.15 L223.10,228.72 L223.85,229.21 L224.60,229.62 L225.35,229.95 L226.10,230.20 L226.85,230.37 L227.60,230.47 L228.35,230.49 L229.10,230.44 L229.85,230.31 L230.60,230.11 L231.35,229.83 L232.10,229.48 L232.85,229.06 L233.60,228.57 L234.35,228.00 L235.10,227.37 L235.85,226.67 L236.60,225.90 L237.35,225.06 L238.10,224.16 L238.85,223.20 L239.60,222.18 L240.35,221.09 L241.10,219.96 L241.85,218.76 L242.60,217.51 L243.35,216.21 L244.10,214.86 L244.85,213.46 L245.60,212.01 L246.35,210.52 L247.10,208.98 L247.85,207.41 L248.60,205.79 L249.35,204.13 L250.10,202.44 L250.85,200.71 L251.60,198.95 L252.35,197.16 L253.10,195.33 L253.85,193.48 L254.60,191.61 L255.35,189.70 L256.10,187.78 L256.85,185.83 L257.60,183.87 L258.35,181.88 L259.10,179.89 L259.85,177.87 L260.60,175.85 L261.35,173.84 L262.10,171.83 L262.85,169.85 L263.60,167.89 L264.35,165.96 L265.10,164.08 L265.85,162.25 L266.60,160.48 L267.35,158.78 L268.10,157.16 L268.85,155.62 L269.60,154.17 L270.35,152.82 L271.10,151.58 L271.85,150.46 L272.60,149.46 L273.35,148.57 L274.10,147.79 L274.85,147.12 L275.60,146.56 L276.35,146.11 L277.10,145.76 L277.85,145.52 L278.60,145.38 L279.35,145.34 L280.10,145.40 L280.85,145.56 L281.60,145.81 L282.35,146.16 L283.10,146.60 L283.85,147.13 L284.60,147.75 L285.35,148.45 L286.10,149.25 L286.85,150.12 L287.60,151.09 L288.35,152.13 L289.10,153.26 L289.85,154.47 L290.60,155.75 L291.35,157.12 L292.10,158.56 L292.85,160.08 L293.60,161.67 L294.35,163.33 L295.10,165.06 L295.85,166.87 L296.60,168.74 L297.35,170.67 L298.10,172.65 L298.85,174.67 L299.60,176.74 L300.35,178.85 L301.10,180.98 L301.85,183.14 L302.60,185.31 L303.35,187.50 L304.10,189.69 L304.85,191.89 L305.60,194.08 L306.35,196.25 L307.10,198.41 L307.85,200.55 L308.60,202.66 L309.35,204.75 L310.10,206.80 L310.85,208.82 L311.60,210.80 L312.35,212.74 L313.10,214.64 L313.85,216.50 L314.60,218.31 L315.35,220.06 L316.10,221.77 L316.85,223.42 L317.60,225.01 L318.35,226.54 L319.10,228.01 L319.85,229.41 L320.60,230.74 L321.35,231.99 L322.10,233.18 L322.85,234.28 L323.60,235.30 L324.35,236.24 L325.10,237.10 L325.85,237.86 L326.60,238.53 L327.35,239.10 L328.10,239.58 L328.85,239.95 L329.60,240.22 L330.35,240.38 L331.10,240.44 L331.85,240.37 L332.60,240.20 L333.35,239.92 L334.10,239.54 L334.85,239.05 L335.60,238.46 L336.35,237.76 L337.10,236.98 L337.85,236.09 L338.60,235.12 L339.35,234.05 L340.10,232.89 L340.85,231.65 L341.60,230.33 L342.35,228.92 L343.10,227.44 L343.85,225.88 L344.60,224.24 L345.35,222.53 L346.10,220.75 L346.85,218.90 L347.60,216.98 L348.35,214.99 L349.10,212.93 L349.85,210.81 L350.60,208.63 L351.35,206.39 L352.10,204.08 L352.85,201.72 L353.60,199.30 L354.35,196.83 L355.10,194.30 L355.85,191.73 L356.60,189.10 L357.35,186.45 L358.10,183.77 L358.85,181.07 L359.60,178.36 L360.35,175.65 L361.10,172.95 L361.85,170.27 L362.60,167.62 L363.35,165.00 L364.10,162.43 L364.85,159.90 L365.60,157.44 L366.35,155.05 L367.10,152.74 L367.85,150.51 L368.60,148.38 L369.35,146.34 L370.10,144.39 L370.85,142.55 L371.60,140.81 L372.35,139.18 L373.10,137.65 L373.85,136.24 L374.60,134.95 L375.35,133.77 L376.10,132.72 L376.85,131.80 L377.60,131.00 L378.35,130.34 L379.10,129.81 L379.85,129.41 L380.60,129.16 L381.35,129.04 L382.10,129.06 L382.85,129.21 L383.60,129.49 L384.35,129.90 L385.10,130.44 L385.85,131.11 L386.60,131.91 L387.35,132.83 L388.10,133.87 L388.85,135.04 L389.60,136.33 L390.35,137.74 L391.10,139.26 L391.85,140.91 L392.60,142.66 L393.35,144.52 L394.10,146.49 L394.85,148.55 L395.60,150.70 L396.35,152.94 L397.10,155.26 L397.85,157.65 L398.60,160.12 L399.35,162.65 L400.10,165.24 L400.85,167.89 L401.60,170.59 L402.35,173.33 L403.10,176.11 L403.85,178.93 L404.60,181.76 L405.35,184.60 L406.10,187.41 L406.85,190.20 L407.60,192.94 L408.35,195.62 L409.10,198.21 L409.85,200.70 L410.60,203.08 L411.35,205.33 L412.40,208.22" stroke="#ff00ff" stroke-width="1.30"/>
<path d="M55.10,167.86 L55.85,167.92 L56.60,168.00 L57.35,168.12 L58.10,168.26 L58.85,168.44 L59.60,168.64 L60.35,168.87 L61.10,169.14 L61.85,169.43 L62.60,169.76 L63.35,170.11 L64.10,170.50 L64.85,170.91 L65.60,171.35 L66.35,171.82 L67.10,172.31 L67.85,172.83 L68.60,173.38 L69.35,173.94 L70.10,174.53 L70.85,175.13 L71.60,175.76 L72.35,176.40 L73.10,177.05 L73.85,177.71 L74.60,178.38 L75.35,179.06 L76.10,179.75 L76.85,180.44 L77.60,181.13 L78.35,181.82 L79.10,182.50 L79.85,183.18 L80.60,183.86 L81.35,184.53 L82.10,185.18 L82.85,185.83 L83.60,186.46 L84.35,187.08 L85.10,187.69 L85.85,188.28 L86.60,188.85 L87.35,189.41 L88.10,189.95 L88.85,190.47 L89.60,190.97 L90.35,191.46 L91.10,191.92 L91.85,192.37 L92.60,192.80 L93.35,193.21 L94.10,193.60 L94.85,193.98 L95.60,194.33 L96.35,194.67 L97.10,194.99 L97.85,195.29 L98.60,195.57 L99.35,195.83 L100.10,196.08 L100.85,196.31 L101.60,196.51 L102.35,196.70 L103.10,196.87 L103.85,197.02 L104.60,197.14 L105.35,197.24 L106.10,197.33 L106.85,197.38 L107.60,197.42 L108.35,197.43 L109.10,197.41 L109.85,197.36 L110.60,197.29 L111.35,197.19 L112.10,197.06 L112.85,196.90 L113.60,196.71 L114.35,196.49 L115.10,196.24 L115.85,195.96 L116.60,195.65 L117.35,195.30 L118.10,194.93 L118.85,194.52 L119.60,194.09 L120.35,193.62 L121.10,193.13 L121.85,192.61 L122.60,192.06 L123.35,191.49 L124.10,190.90 L124.85,190.29 L125.60,189.65 L126.35,189.00 L127.10,188.34 L127.85,187.66 L128.60,186.97 L129.35,186.27 L130.10,185.56 L130.85,184.85 L131.60,184.14 L132.35,183.43 L133.10,182.72 L133.85,182.01 L134.60,181.31 L135.35,180.61 L136.10,179.93 L136.85,179.25 L137.60,178.59 L138.35,177.94 L139.10,177.31 L139.85,176.69 L140.60,176.09 L141.35,175.51 L142.10,174.95 L142.85,174.40 L143.60,173.88 L144.35,173.37 L145.10,172.89 L145.85,172.43 L146.60,171.99 L147.35,171.57 L148.10,171.17 L148.85,170.79 L149.60,170.44 L150.35,170.10 L151.10,169.79 L151.85,169.50 L152.60,169.23 L153.35,168.98 L154.10,168.76 L154.85,168.56 L155.60,168.38 L156.35,168.23 L157.10,168.10 L157.85,168.00 L158.60,167.91 L159.35,167.86 L160.10,167.83 L160.85,167.83 L161.60,167.85 L162.35,167.91 L163.10,167.99 L163.85,168.10 L164.60,168.24 L165.35,168.41 L166.10,168.61 L166.85,168.83 L167.60,169.09 L168.35,169.38 L169.10,169.70 L169.85,170.05 L170.60,170.43 L171.35,170.84 L172.10,171.28 L172.85,171.74 L173.60,172.23 L174.35,172.75 L175.10,173.29 L175.85,173.85 L176.60,174.43 L177.35,175.04 L178.10,175.66 L178.85,176.29 L179.60,176.94 L180.35,177.61 L181.10,178.28 L181.85,178.96 L182.60,179.64 L183.35,180.33 L184.10,181.02 L184.85,181.71 L185.60,182.39 L186.35,183.08 L187.10,183.75 L187.85,184.42 L188.60,185.08 L189.35,185.73 L190.10,186.36 L190.85,186.99 L191.60,187.59 L192.35,188.19 L193.10,188.76 L193.85,189.32 L194.60,189.86 L195.35,190.39 L196.10,190.89 L196.85,191.38 L197.60,191.85 L198.35,192.30 L199.10,192.73 L199.85,193.15 L200.60,193.54 L201.35,193.92 L202.10,194.28 L202.85,194.62 L203.60,194.94 L204.35,195.24 L205.10,195.53 L205.85,195.79 L206.60,196.04 L207.35,196.27 L208.10,196.48 L208.85,196.67 L209.60,196.84 L210.35,196.99 L211.10,197.12 L211.85,197.23 L212.60,197.31 L213.35,197.38 L214.10,197.41 L214.85,197.43 L215.60,197.41 L216.35,197.37 L217.10,197.30 L217.85,197.21 L218.60,197.08 L219.35,196.93 L220.10,196.75 L220.85,196.53 L221.60,196.28 L222.35,196.01 L223.10,195.70 L223.85,195.36 L224.60,194.99 L225.35,194.59 L226.10,194.16 L226.85,193.70 L227.60,193.21 L228.35,192.69 L229.10,192.15 L229.85,191.58 L230.60,191.00 L231.35,190.38 L232.10,189.75 L232.85,189.11 L233.60,188.44 L234.35,187.77 L235.10,187.08 L235.85,186.38 L236.60,185.68 L237.35,184.97 L238.10,184.25 L238.85,183.54 L239.60,182.83 L240.35,182.12 L241.10,181.42 L241.85,180.72 L242.60,180.03 L243.35,179.36 L244.10,178.69 L244.85,178.04 L245.60,177.41 L246.35,176.79 L247.10,176.19 L247.85,175.60 L248.60,175.03 L249.35,174.49 L250.10,173.96 L250.85,173.45 L251.60,172.97 L252.35,172.50 L253.10,172.06 L253.85,171.63 L254.60,171.23 L255.35,170.85 L256.10,170.49 L256.85,170.15 L257.60,169.84 L258.35,169.54 L259.10,169.27 L259.85,169.02 L260.60,168.80 L261.35,168.59 L262.10,168.41 L262.85,168.25 L263.60,168.12 L264.35,168.01 L265.10,167.93 L265.85,167.87 L266.60,167.83 L267.35,167.83 L268.10,167.85 L268.85,167.90 L269.60,167.97 L270.35,168.08 L271.10,168.21 L271.85,168.38 L272.60,168.57 L273.35,168.80 L274.10,169.05 L274.85,169.34 L275.60,169.65 L276.35,170.00 L277.10,170.37 L277.85,170.77 L278.60,171.21 L279.35,171.67 L280.10,172.15 L280.85,172.67 L281.60,173.20 L282.35,173.76 L283.10,174.34 L283.85,174.94 L284.60,175.56 L285.35,176.19 L286.10,176.84 L286.85,177.50 L287.60,178.17 L288.35,178.85 L289.10,179.53 L289.85,180.22 L290.60,180.91 L291.35,181.60 L292.10,182.29 L292.85,182.97 L293.60,183.65 L294.35,184.32 L295.10,184.98 L295.85,185.63 L296.60,186.26 L297.35,186.89 L298.10,187.50 L298.85,188.09 L299.60,188.67 L300.35,189.23 L301.10,189.78 L301.85,190.31 L302.60,190.82 L303.35,191.31 L304.10,191.78 L304.85,192.23 L305.60,192.67 L306.35,193.08 L307.10,193.48 L307.85,193.86 L308.60,194.22 L309.35,194.56 L310.10,194.89 L310.85,195.19 L311.60,195.48 L312.35,195.75 L313.10,196.00 L313.85,196.24 L314.60,196.45 L315.35,196.64 L316.10,196.82 L316.85,196.97 L317.60,197.10 L318.35,197.21 L319.10,197.30 L319.85,197.37 L320.60,197.41 L321.35,197.43 L322.10,197.42 L322.85,197.38 L323.60,197.32 L324.35,197.23 L325.10,197.11 L325.85,196.96 L326.60,196.78 L327.35,196.57 L328.10,196.32 L328.85,196.05 L329.60,195.75 L330.35,195.41 L331.10,195.05 L331.85,194.65 L332.60,194.23 L333.35,193.77 L334.10,193.29 L334.85,192.77 L335.60,192.24 L336.35,191.68 L337.10,191.09 L337.85,190.48 L338.60,189.86 L339.35,189.21 L340.10,188.55 L340.85,187.87 L341.60,187.19 L342.35,186.49 L343.10,185.79 L343.85,185.08 L344.60,184.37 L345.35,183.65 L346.10,182.94 L346.85,182.23 L347.60,181.53 L348.35,180.83 L349.10,180.14 L349.85,179.46 L350.60,178.80 L351.35,178.15 L352.10,177.51 L352.85,176.89 L353.60,176.28 L354.35,175.69 L355.10,175.12 L355.85,174.57 L356.60,174.04 L357.35,173.53 L358.10,173.04 L358.85,172.57 L359.60,172.12 L360.35,171.70 L361.10,171.29 L361.85,170.91 L362.60,170.55 L363.35,170.20 L364.10,169.89 L364.85,169.59 L365.60,169.31 L366.35,169.06 L367.10,168.83 L367.85,168.62 L368.60,168.44 L369.35,168.28 L370.10,168.14 L370.85,168.03 L371.60,167.94 L372.35,167.87 L373.10,167.84 L373.85,167.83 L374.60,167.84 L375.35,167.89 L376.10,167.96 L376.85,168.06 L377.60,168.19 L378.35,168.35 L379.10,168.54 L379.85,168.76 L380.60,169.01 L381.35,169.29 L382.10,169.60 L382.85,169.94 L383.60,170.31 L384.35,170.71 L385.10,171.14 L385.85,171.59 L386.60,172.08 L387.35,172.58 L388.10,173.12 L388.85,173.67 L389.60,174.25 L390.35,174.85 L391.10,175.46 L391.85,176.09 L392.60,176.74 L393.35,177.40 L394.10,178.06 L394.85,178.74 L395.60,179.42 L396.35,180.11 L397.10,180.80 L397.85,181.49 L398.60,182.18 L399.35,182.86 L400.10,183.54 L400.85,184.21 L401.60,184.87 L402.35,185.52 L403.10,186.16 L403.85,186.79 L404.60,187.40 L405.35,188.00 L406.10,188.58 L406.85,189.15 L407.60,189.69 L408.35,190.22 L409.10,190.74 L409.85,191.23 L410.60,191.70 L411.35,192.16 L412.40,192.77" stroke="#00ff00" stroke-width="1.30"/>
<path d="M55.10,136.17 L55.85,136.21 L56.60,136.24 L57.35,136.25 L58.10,136.25 L58.85,136.24 L59.60,136.20 L60.35,136.16 L61.10,136.10 L61.85,136.02 L62.60,135.93 L63.35,135.82 L64.10,135.69 L64.85,135.55 L65.60,135.40 L66.35,135.23 L67.10,135.04 L67.85,134.84 L68.60,134.62 L69.35,134.38 L70.10,134.12 L70.85,133.85 L71.60,133.56 L72.35,133.25 L73.10,132.92 L73.85,132.57 L74.60,132.20 L75.35,131.81 L76.10,131.40 L76.85,130.97 L77.60,130.51 L78.35,130.04 L79.10,129.53 L79.85,129.01 L80.60,128.46 L81.35,127.89 L82.10,127.30 L82.85,126.68 L83.60,126.06 L84.35,125.41 L85.10,124.75 L85.85,124.07 L86.60,123.39 L87.35,122.69 L88.10,121.98 L88.85,121.26 L89.60,120.54 L90.35,119.81 L91.10,119.08 L91.85,118.34 L92.60,117.61 L93.35,116.87 L94.10,116.13 L94.85,115.39 L95.60,114.66 L96.35,113.92 L97.10,113.19 L97.85,112.46 L98.60,111.74 L99.35,111.02 L100.10,110.30 L100.85,109.60 L101.60,108.90 L102.35,108.20 L103.10,107.52 L103.85,106.85 L104.60,106.18 L105.35,105.53 L106.10,104.89 L106.85,104.27 L107.60,103.65 L108.35,103.06 L109.10,102.48 L109.85,101.92 L110.60,101.37 L111.35,100.85 L112.10,100.35 L112.85,99.86 L113.60,99.41 L114.35,98.97 L115.10,98.56 L115.85,98.18 L116.60,97.82 L117.35,97.49 L118.10,97.19 L118.85,96.92 L119.60,96.67 L120.35,96.46 L121.10,96.28 L121.85,96.12 L122.60,96.01 L123.35,95.92 L124.10,95.87 L124.85,95.85 L125.60,95.87 L126.35,95.92 L127.10,96.01 L127.85,96.14 L128.60,96.30 L129.35,96.51 L130.10,96.75 L130.85,97.04 L131.60,97.37 L132.35,97.75 L133.10,98.17 L133.85,98.65 L134.60,99.17 L135.35,99.74 L136.10,100.37 L136.85,101.05 L137.60,101.79 L138.35,102.59 L139.10,103.44 L139.85,104.36 L140.60,105.34 L141.35,106.37 L142.10,107.46 L142.85,108.61 L143.60,109.80 L144.35,111.05 L145.10,112.34 L145.85,113.69 L146.60,115.07 L147.35,116.50 L148.10,117.96 L148.85,119.47 L149.60,121.01 L150.35,122.58 L151.10,124.19 L151.85,125.82 L152.60,127.49 L153.35,129.16 L154.10,130.85 L154.85,132.55 L155.60,134.24 L156.35,135.93 L157.10,137.59 L157.85,139.24 L158.60,140.85 L159.35,142.43 L160.10,143.97 L160.85,145.45 L161.60,146.88 L162.35,148.25 L163.10,149.54 L163.85,150.76 L164.60,151.89 L165.35,152.94 L166.10,153.92 L166.85,154.81 L167.60,155.62 L168.35,156.36 L169.10,157.02 L169.85,157.59 L170.60,158.10 L171.35,158.52 L172.10,158.87 L172.85,159.14 L173.60,159.33 L174.35,159.45 L175.10,159.49 L175.85,159.46 L176.60,159.35 L177.35,159.17 L178.10,158.92 L178.85,158.58 L179.60,158.17 L180.35,157.68 L181.10,157.12 L181.85,156.47 L182.60,155.74 L183.35,154.94 L184.10,154.05 L184.85,153.08 L185.60,152.03 L186.35,150.90 L187.10,149.68 L187.85,148.38 L188.60,146.99 L189.35,145.53 L190.10,144.00 L190.85,142.39 L191.60,140.72 L192.35,138.99 L193.10,137.20 L193.85,135.36 L194.60,133.47 L195.35,131.54 L196.10,129.57 L196.85,127.56 L197.60,125.52 L198.35,123.46 L199.10,121.37 L199.85,119.26 L200.60,117.14 L201.35,115.01 L202.10,112.87 L202.85,110.73 L203.60,108.59 L204.35,106.46 L205.10,104.33 L205.85,102.22 L206.60,100.13 L207.35,98.05 L208.10,96.00 L208.85,93.98 L209.60,92.00 L210.35,90.04 L211.10,88.13 L211.85,86.27 L212.60,84.45 L213.35,82.68 L214.10,80.97 L214.85,79.32 L215.60,77.73 L216.35,76.20 L217.10,74.75 L217.85,73.37 L218.60,72.06 L219.35,70.84 L220.10,69.70 L220.85,68.65 L221.60,67.69 L222.35,66.82 L223.10,66.05 L223.85,65.39 L224.60,64.83 L225.35,64.37 L226.10,64.01 L226.85,63.76 L227.60,63.61 L228.35,63.57 L229.10,63.63 L229.85,63.79 L230.60,64.06 L231.35,64.42 L232.10,64.89 L232.85,65.47 L233.60,66.14 L234.35,66.92 L235.10,67.80 L235.85,68.78 L236.60,69.86 L237.35,71.04 L238.10,72.31 L238.85,73.68 L239.60,75.13 L240.35,76.67 L241.10,78.29 L241.85,80.00 L242.60,81.77 L243.35,83.63 L244.10,85.55 L244.85,87.54 L245.60,89.60 L246.35,91.72 L247.10,93.89 L247.85,96.13 L248.60,98.41 L249.35,100.75 L250.10,103.14 L250.85,105.57 L251.60,108.04 L252.35,110.56 L253.10,113.11 L253.85,115.70 L254.60,118.33 L255.35,120.98 L256.10,123.66 L256.85,126.37 L257.60,129.10 L258.35,131.85 L259.10,134.63 L259.85,137.41 L260.60,140.21 L261.35,143.00 L262.10,145.78 L262.85,148.54 L263.60,151.26 L264.35,153.93 L265.10,156.54 L265.85,159.09 L266.60,161.55 L267.35,163.92 L268.10,166.19 L268.85,168.34 L269.60,170.37 L270.35,172.26 L271.10,174.00 L271.85,175.58 L272.60,177.00 L273.35,178.25 L274.10,179.33 L274.85,180.25 L275.60,181.00 L276.35,181.59 L277.10,182.01 L277.85,182.26 L278.60,182.35 L279.35,182.27 L280.10,182.03 L280.85,181.63 L281.60,181.05 L282.35,180.32 L283.10,179.41 L283.85,178.34 L284.60,177.11 L285.35,175.73 L286.10,174.19 L286.85,172.51 L287.60,170.69 L288.35,168.74 L289.10,166.66 L289.85,164.46 L290.60,162.15 L291.35,159.73 L292.10,157.21 L292.85,154.59 L293.60,151.88 L294.35,149.09 L295.10,146.22 L295.85,143.28 L296.60,140.27 L297.35,137.21 L298.10,134.10 L298.85,130.96 L299.60,127.79 L300.35,124.59 L301.10,121.39 L301.85,118.19 L302.60,115.00 L303.35,111.82 L304.10,108.68 L304.85,105.56 L305.60,102.50 L306.35,99.48 L307.10,96.53 L307.85,93.66 L308.60,90.85 L309.35,88.13 L310.10,85.48 L310.85,82.91 L311.60,80.41 L312.35,77.98 L313.10,75.63 L313.85,73.35 L314.60,71.14 L315.35,69.00 L316.10,66.93 L316.85,64.93 L317.60,63.00 L318.35,61.14 L319.10,59.35 L319.85,57.62 L320.60,55.96 L321.35,54.38 L322.10,52.87 L322.85,51.44 L323.60,50.11 L324.35,48.86 L325.10,47.71 L325.85,46.66 L326.60,45.72 L327.35,44.88 L328.10,44.16 L328.85,43.56 L329.60,43.09 L330.35,42.74 L331.10,42.52 L331.85,42.44 L332.60,42.50 L333.35,42.70 L334.10,43.03 L334.85,43.50 L335.60,44.09 L336.35,44.82 L337.10,45.67 L337.85,46.64 L338.60,47.74 L339.35,48.95 L340.10,50.29 L340.85,51.74 L341.60,53.31 L342.35,54.99 L343.10,56.78 L343.85,58.67 L344.60,60.68 L345.35,62.79 L346.10,65.01 L346.85,67.34 L347.60,69.77 L348.35,72.32 L349.10,74.98 L349.85,77.74 L350.60,80.62 L351.35,83.60 L352.10,86.70 L352.85,89.91 L353.60,93.24 L354.35,96.67 L355.10,100.22 L355.85,103.88 L356.60,107.65 L357.35,111.50 L358.10,115.43 L358.85,119.42 L359.60,123.45 L360.35,127.50 L361.10,131.55 L361.85,135.60 L362.60,139.63 L363.35,143.61 L364.10,147.53 L364.85,151.38 L365.60,155.14 L366.35,158.79 L367.10,162.32 L367.85,165.71 L368.60,168.94 L369.35,172.02 L370.10,174.94 L370.85,177.69 L371.60,180.26 L372.35,182.66 L373.10,184.87 L373.85,186.89 L374.60,188.72 L375.35,190.34 L376.10,191.76 L376.85,192.97 L377.60,193.96 L378.35,194.73 L379.10,195.27 L379.85,195.57 L380.60,195.64 L381.35,195.48 L382.10,195.10 L382.85,194.50 L383.60,193.68 L384.35,192.66 L385.10,191.43 L385.85,190.00 L386.60,188.38 L387.35,186.57 L388.10,184.58 L388.85,182.40 L389.60,180.06 L390.35,177.55 L391.10,174.87 L391.85,172.03 L392.60,169.05 L393.35,165.93 L394.10,162.70 L394.85,159.36 L395.60,155.94 L396.35,152.44 L397.10,148.88 L397.85,145.29 L398.60,141.66 L399.35,138.02 L400.10,134.39 L400.85,130.77 L401.60,127.18 L402.35,123.65 L403.10,120.17 L403.85,116.78 L404.60,113.46 L405.35,110.20 L406.10,107.00 L406.85,103.82 L407.60,100.66 L408.35,97.50 L409.10,94.33 L409.85,91.12 L410.60,87.87 L411.35,84.55 L412.40,79.77" stroke="#00ffff" stroke-width="1.30"/>
<path d="M55.10,252.50 L55.85,252.51 L56.60,252.50 L57.35,252.47 L58.10,252.42 L58.85,252.36 L59.60,252.28 L60.35,252.18 L61.10,252.07 L61.85,251.95 L62.60,251.81 L63.35,251.66 L64.10,251.50 L64.85,251.32 L65.60,251.14 L66.35,250.94 L67.10,250.73 L67.85,250.52 L68.60,250.30 L69.35,250.07 L70.10,249.83 L70.85,249.58 L71.60,249.33 L72.35,249.08 L73.10,248.82 L73.85,248.55 L74.60,248.29 L75.35,248.02 L76.10,247.76 L76.85,247.49 L77.60,247.23 L78.35,246.96 L79.10,246.70 L79.85,246.45 L80.60,246.20 L81.35,245.95 L82.10,245.71 L82.85,245.48 L83.60,245.26 L84.35,245.04 L85.10,244.84 L85.85,244.64 L86.60,244.46 L87.35,244.29 L88.10,244.13 L88.85,243.98 L89.60,243.84 L90.35,243.72 L91.10,243.60 L91.85,243.49 L92.60,243.39 L93.35,243.30 L94.10,243.22 L94.85,243.15 L95.60,243.09 L96.35,243.03 L97.10,242.98 L97.85,242.94 L98.60,242.91 L99.35,242.88 L100.10,242.86 L100.85,242.85 L101.60,242.84 L102.35,242.84 L103.10,242.85 L103.85,242.86 L104.60,242.87 L105.35,242.89 L106.10,242.92 L106.85,242.95 L107.60,242.99 L108.35,243.03 L109.10,243.07 L109.85,243.12 L110.60,243.17 L111.35,243.22 L112.10,243.28 L112.85,243.35 L113.60,243.41 L114.35,243.48 L115.10,243.55 L115.85,243.62 L116.60,243.70 L117.35,243.77 L118.10,243.86 L118.85,243.94 L119.60,244.03 L120.35,244.12 L121.10,244.21 L121.85,244.31 L122.60,244.41 L123.35,244.52 L124.10,244.64 L124.85,244.75 L125.60,244.88 L126.35,245.01 L127.10,245.14 L127.85,245.28 L128.60,245.43 L129.35,245.59 L130.10,245.75 L130.85,245.92 L131.60,246.10 L132.35,246.28 L133.10,246.48 L133.85,246.67 L134.60,246.88 L135.35,247.09 L136.10,247.30 L136.85,247.53 L137.60,247.75 L138.35,247.98 L139.10,248.21 L139.85,248.45 L140.60,248.69 L141.35,248.93 L142.10,249.17 L142.85,249.42 L143.60,249.66 L144.35,249.91 L145.10,250.16 L145.85,250.40 L146.60,250.65 L147.35,250.90 L148.10,251.14 L148.85,251.38 L149.60,251.61 L150.35,251.84 L151.10,252.06 L151.85,252.26 L152.60,252.46 L153.35,252.64 L154.10,252.81 L154.85,252.97 L155.60,253.11 L156.35,253.23 L157.10,253.33 L157.85,253.41 L158.60,253.47 L159.35,253.50 L160.10,253.52 L160.85,253.50 L161.60,253.46 L162.35,253.39 L163.10,253.30 L163.85,253.19 L164.60,253.05 L165.35,252.90 L166.10,252.72 L166.85,252.53 L167.60,252.33 L168.35,252.11 L169.10,251.88 L169.85,251.64 L170.60,251.39 L171.35,251.14 L172.10,250.88 L172.85,250.61 L173.60,250.34 L174.35,250.07 L175.10,249.80 L175.85,249.53 L176.60,249.27 L177.35,249.01 L178.10,248.75 L178.85,248.50 L179.60,248.25 L180.35,248.00 L181.10,247.76 L181.85,247.52 L182.60,247.29 L183.35,247.07 L184.10,246.85 L184.85,246.64 L185.60,246.43 L186.35,246.23 L187.10,246.04 L187.85,245.85 L188.60,245.67 L189.35,245.50 L190.10,245.34 L190.85,245.19 L191.60,245.04 L192.35,244.90 L193.10,244.77 L193.85,244.64 L194.60,244.53 L195.35,244.42 L196.10,244.31 L196.85,244.21 L197.60,244.12 L198.35,244.03 L199.10,243.95 L199.85,243.87 L200.60,243.79 L201.35,243.72 L202.10,243.65 L202.85,243.58 L203.60,243.52 L204.35,243.46 L205.10,243.40 L205.85,243.34 L206.60,243.28 L207.35,243.23 L208.10,243.17 L208.85,243.12 L209.60,243.07 L210.35,243.02 L211.10,242.98 L211.85,242.94 L212.60,242.90 L213.35,242.87 L214.10,242.84 L214.85,242.82 L215.60,242.81 L216.35,242.80 L217.10,242.79 L217.85,242.80 L218.60,242.81 L219.35,242.82 L220.10,242.85 L220.85,242.88 L221.60,242.93 L222.35,242.98 L223.10,243.04 L223.85,243.10 L224.60,243.18 L225.35,243.27 L226.10,243.36 L226.85,243.47 L227.60,243.58 L228.35,243.70 L229.10,243.83 L229.85,243.97 L230.60,244.11 L231.35,244.27 L232.10,244.43 L232.85,244.61 L233.60,244.79 L234.35,244.98 L235.10,245.18 L235.85,245.39 L236.60,245.60 L237.35,245.83 L238.10,246.06 L238.85,246.30 L239.60,246.54 L240.35,246.79 L241.10,247.04 L241.85,247.30 L242.60,247.56 L243.35,247.81 L244.10,248.07 L244.85,248.33 L245.60,248.59 L246.35,248.84 L247.10,249.09 L247.85,249.34 L248.60,249.58 L249.35,249.82 L250.10,250.05 L250.85,250.27 L251.60,250.49 L252.35,250.70 L253.10,250.89 L253.85,251.08 L254.60,251.27 L255.35,251.44 L256.10,251.60 L256.85,251.76 L257.60,251.90 L258.35,252.04 L259.10,252.16 L259.85,252.28 L260.60,252.38 L261.35,252.48 L262.10,252.56 L262.85,252.63 L263.60,252.70 L264.35,252.75 L265.10,252.79 L265.85,252.82 L266.60,252.83 L267.35,252.84 L268.10,252.83 L268.85,252.81 L269.60,252.79 L270.35,252.74 L271.10,252.69 L271.85,252.63 L272.60,252.55 L273.35,252.46 L274.10,252.36 L274.85,252.25 L275.60,252.12 L276.35,251.99 L277.10,251.84 L277.85,251.68 L278.60,251.51 L279.35,251.32 L280.10,251.13 L280.85,250.92 L281.60,250.70 L282.35,250.47 L283.10,250.23 L283.85,249.98 L284.60,249.72 L285.35,249.46 L286.10,249.19 L286.85,248.92 L287.60,248.64 L288.35,248.36 L289.10,248.08 L289.85,247.81 L290.60,247.53 L291.35,247.25 L292.10,246.98 L292.85,246.71 L293.60,246.45 L294.35,246.20 L295.10,245.95 L295.85,245.71 L296.60,245.48 L297.35,245.26 L298.10,245.05 L298.85,244.86 L299.60,244.67 L300.35,244.49 L301.10,244.32 L301.85,244.16 L302.60,244.01 L303.35,243.87 L304.10,243.74 L304.85,243.62 L305.60,243.51 L306.35,243.41 L307.10,243.32 L307.85,243.24 L308.60,243.17 L309.35,243.11 L310.10,243.06 L310.85,243.02 L311.60,242.99 L312.35,242.96 L313.10,242.95 L313.85,242.94 L314.60,242.95 L315.35,242.96 L316.10,242.97 L316.85,242.99 L317.60,243.02 L318.35,243.06 L319.10,243.10 L319.85,243.14 L320.60,243.19 L321.35,243.24 L322.10,243.29 L322.85,243.35 L323.60,243.41 L324.35,243.47 L325.10,243.53 L325.85,243.59 L326.60,243.65 L327.35,243.71 L328.10,243.78 L328.85,243.84 L329.60,243.91 L330.35,243.97 L331.10,244.04 L331.85,244.12 L332.60,244.19 L333.35,244.27 L334.10,244.35 L334.85,244.44 L335.60,244.52 L336.35,244.62 L337.10,244.72 L337.85,244.82 L338.60,244.93 L339.35,245.04 L340.10,245.16 L340.85,245.28 L341.60,245.42 L342.35,245.56 L343.10,245.70 L343.85,245.85 L344.60,246.01 L345.35,246.17 L346.10,246.34 L346.85,246.52 L347.60,246.70 L348.35,246.89 L349.10,247.08 L349.85,247.28 L350.60,247.48 L351.35,247.69 L352.10,247.91 L352.85,248.13 L353.60,248.35 L354.35,248.59 L355.10,248.82 L355.85,249.06 L356.60,249.31 L357.35,249.56 L358.10,249.81 L358.85,250.07 L359.60,250.32 L360.35,250.57 L361.10,250.82 L361.85,251.06 L362.60,251.30 L363.35,251.53 L364.10,251.75 L364.85,251.97 L365.60,252.17 L366.35,252.36 L367.10,252.53 L367.85,252.69 L368.60,252.83 L369.35,252.96 L370.10,253.06 L370.85,253.15 L371.60,253.21 L372.35,253.25 L373.10,253.27 L373.85,253.27 L374.60,253.26 L375.35,253.22 L376.10,253.16 L376.85,253.09 L377.60,253.00 L378.35,252.90 L379.10,252.78 L379.85,252.64 L380.60,252.49 L381.35,252.32 L382.10,252.15 L382.85,251.96 L383.60,251.76 L384.35,251.54 L385.10,251.32 L385.85,251.09 L386.60,250.84 L387.35,250.59 L388.10,250.34 L388.85,250.07 L389.60,249.81 L390.35,249.54 L391.10,249.27 L391.85,248.99 L392.60,248.72 L393.35,248.45 L394.10,248.19 L394.85,247.93 L395.60,247.67 L396.35,247.43 L397.10,247.19 L397.85,246.96 L398.60,246.74 L399.35,246.54 L400.10,246.35 L400.85,246.17 L401.60,246.01 L402.35,245.86 L403.10,245.73 L403.85,245.60 L404.60,245.49 L405.35,245.38 L406.10,245.27 L406.85,245.17 L407.60,245.06 L408.35,244.96 L409.10,244.85 L409.85,244.74 L410.60,244.62 L411.35,244.49 L412.40,244.29" stroke="#0000ff" stroke-width="1.30"/>
<path d="M55.10,253.40 L55.85,253.40 L56.60,253.41 L57.35,253.43 L58.10,253.44 L58.85,253.46 L59.60,253.48 L60.35,253.50 L61.10,253.51 L61.85,253.52 L62.60,253.53 L63.35,253.53 L64.10,253.53 L64.85,253.51 L65.60,253.49 L66.35,253.45 L67.10,253.41 L67.85,253.36 L68.60,253.30 L69.35,253.24 L70.10,253.16 L70.85,253.08 L71.60,253.00 L72.35,252.91 L73.10,252.81 L73.85,252.71 L74.60,252.61 L75.35,252.50 L76.10,252.39 L76.85,252.28 L77.60,252.16 L78.35,252.05 L79.10,251.93 L79.85,251.82 L80.60,251.70 L81.35,251.59 L82.10,251.48 L82.85,251.37 L83.60,251.27 L84.35,251.17 L85.10,251.07 L85.85,250.97 L86.60,250.88 L87.35,250.80 L88.10,250.72 L88.85,250.64 L89.60,250.56 L90.35,250.49 L91.10,250.42 L91.85,250.36 L92.60,250.30 L93.35,250.24 L94.10,250.19 L94.85,250.15 L95.60,250.11 L96.35,250.08 L97.10,250.06 L97.85,250.05 L98.60,250.05 L99.35,250.07 L100.10,250.09 L100.85,250.13 L101.60,250.18 L102.35,250.25 L103.10,250.32 L103.85,250.41 L104.60,250.50 L105.35,250.60 L106.10,250.71 L106.85,250.82 L107.60,250.94 L108.35,251.05 L109.10,251.17 L109.85,251.28 L110.60,251.39 L111.35,251.50 L112.10,251.61 L112.85,251.71 L113.60,251.81 L114.35,251.91 L115.10,252.00 L115.85,252.09 L116.60,252.18 L117.35,252.26 L118.10,252.34 L118.85,252.42 L119.60,252.49 L120.35,252.56 L121.10,252.62 L121.85,252.68 L122.60,252.74 L123.35,252.78 L124.10,252.82 L124.85,252.85 L125.60,252.88 L126.35,252.89 L127.10,252.90 L127.85,252.90 L128.60,252.88 L129.35,252.86 L130.10,252.83 L130.85,252.79 L131.60,252.74 L132.35,252.68 L133.10,252.62 L133.85,252.55 L134.60,252.48 L135.35,252.40 L136.10,252.32 L136.85,252.24 L137.60,252.15 L138.35,252.05 L139.10,251.96 L139.85,251.87 L140.60,251.78 L141.35,251.70 L142.10,251.62 L142.85,251.54 L143.60,251.48 L144.35,251.42 L145.10,251.37 L145.85,251.33 L146.60,251.30 L147.35,251.29 L148.10,251.29 L148.85,251.29 L149.60,251.31 L150.35,251.33 L151.10,251.37 L151.85,251.41 L152.60,251.46 L153.35,251.51 L154.10,251.58 L154.85,251.64 L155.60,251.71 L156.35,251.79 L157.10,251.86 L157.85,251.94 L158.60,252.03 L159.35,252.11 L160.10,252.19 L160.85,252.27 L161.60,252.35 L162.35,252.43 L163.10,252.50 L163.85,252.58 L164.60,252.64 L165.35,252.70 L166.10,252.76 L166.85,252.80 L167.60,252.84 L168.35,252.87 L169.10,252.88 L169.85,252.88 L170.60,252.86 L171.35,252.82 L172.10,252.77 L172.85,252.70 L173.60,252.61 L174.35,252.50 L175.10,252.37 L175.85,252.23 L176.60,252.07 L177.35,251.90 L178.10,251.71 L178.85,251.52 L179.60,251.32 L180.35,251.11 L181.10,250.90 L181.85,250.68 L182.60,250.46 L183.35,250.24 L184.10,250.02 L184.85,249.79 L185.60,249.57 L186.35,249.35 L187.10,249.12 L187.85,248.90 L188.60,248.69 L189.35,248.47 L190.10,248.26 L190.85,248.06 L191.60,247.86 L192.35,247.67 L193.10,247.48 L193.85,247.31 L194.60,247.15 L195.35,247.01 L196.10,246.88 L196.85,246.77 L197.60,246.68 L198.35,246.62 L199.10,246.58 L199.85,246.56 L200.60,246.58 L201.35,246.62 L202.10,246.69 L202.85,246.78 L203.60,246.89 L204.35,247.03 L205.10,247.19 L205.85,247.37 L206.60,247.57 L207.35,247.79 L208.10,248.02 L208.85,248.27 L209.60,248.54 L210.35,248.81 L211.10,249.10 L211.85,249.39 L212.60,249.69 L213.35,249.99 L214.10,250.29 L214.85,250.58 L215.60,250.87 L216.35,251.15 L217.10,251.42 L217.85,251.68 L218.60,251.93 L219.35,252.15 L220.10,252.36 L220.85,252.56 L221.60,252.74 L222.35,252.91 L223.10,253.06 L223.85,253.20 L224.60,253.32 L225.35,253.42 L226.10,253.52 L226.85,253.59 L227.60,253.65 L228.35,253.70 L229.10,253.73 L229.85,253.74 L230.60,253.73 L231.35,253.69 L232.10,253.64 L232.85,253.56 L233.60,253.45 L234.35,253.32 L235.10,253.15 L235.85,252.96 L236.60,252.74 L237.35,252.49 L238.10,252.22 L238.85,251.92 L239.60,251.60 L240.35,251.27 L241.10,250.93 L241.85,250.58 L242.60,250.22 L243.35,249.86 L244.10,249.49 L244.85,249.14 L245.60,248.78 L246.35,248.44 L247.10,248.11 L247.85,247.79 L248.60,247.49 L249.35,247.20 L250.10,246.94 L250.85,246.70 L251.60,246.49 L252.35,246.31 L253.10,246.16 L253.85,246.04 L254.60,245.96 L255.35,245.92 L256.10,245.91 L256.85,245.94 L257.60,246.00 L258.35,246.09 L259.10,246.22 L259.85,246.38 L260.60,246.57 L261.35,246.79 L262.10,247.05 L262.85,247.33 L263.60,247.65 L264.35,247.98 L265.10,248.34 L265.85,248.71 L266.60,249.09 L267.35,249.48 L268.10,249.86 L268.85,250.24 L269.60,250.61 L270.35,250.97 L271.10,251.30 L271.85,251.61 L272.60,251.89 L273.35,252.14 L274.10,252.35 L274.85,252.53 L275.60,252.67 L276.35,252.78 L277.10,252.84 L277.85,252.87 L278.60,252.85 L279.35,252.79 L280.10,252.68 L280.85,252.53 L281.60,252.32 L282.35,252.07 L283.10,251.78 L283.85,251.45 L284.60,251.08 L285.35,250.68 L286.10,250.25 L286.85,249.79 L287.60,249.30 L288.35,248.80 L289.10,248.27 L289.85,247.73 L290.60,247.17 L291.35,246.61 L292.10,246.05 L292.85,245.49 L293.60,244.94 L294.35,244.41 L295.10,243.89 L295.85,243.41 L296.60,242.96 L297.35,242.55 L298.10,242.18 L298.85,241.86 L299.60,241.60 L300.35,241.39 L301.10,241.23 L301.85,241.13 L302.60,241.08 L303.35,241.08 L304.10,241.13 L304.85,241.24 L305.60,241.39 L306.35,241.59 L307.10,241.83 L307.85,242.13 L308.60,242.47 L309.35,242.85 L310.10,243.27 L310.85,243.72 L311.60,244.20 L312.35,244.70 L313.10,245.22 L313.85,245.76 L314.60,246.31 L315.35,246.87 L316.10,247.43 L316.85,248.00 L317.60,248.55 L318.35,249.10 L319.10,249.64 L319.85,250.17 L320.60,250.68 L321.35,251.18 L322.10,251.66 L322.85,252.12 L323.60,252.56 L324.35,252.97 L325.10,253.35 L325.85,253.71 L326.60,254.04 L327.35,254.33 L328.10,254.58 L328.85,254.78 L329.60,254.94 L330.35,255.04 L331.10,255.09 L331.85,255.07 L332.60,254.99 L333.35,254.83 L334.10,254.60 L334.85,254.29 L335.60,253.90 L336.35,253.43 L337.10,252.90 L337.85,252.31 L338.60,251.67 L339.35,250.99 L340.10,250.28 L340.85,249.55 L341.60,248.81 L342.35,248.07 L343.10,247.33 L343.85,246.61 L344.60,245.90 L345.35,245.23 L346.10,244.58 L346.85,243.96 L347.60,243.38 L348.35,242.83 L349.10,242.31 L349.85,241.84 L350.60,241.40 L351.35,241.01 L352.10,240.67 L352.85,240.37 L353.60,240.13 L354.35,239.93 L355.10,239.79 L355.85,239.70 L356.60,239.67 L357.35,239.69 L358.10,239.77 L358.85,239.90 L359.60,240.10 L360.35,240.35 L361.10,240.67 L361.85,241.05 L362.60,241.48 L363.35,241.98 L364.10,242.52 L364.85,243.11 L365.60,243.73 L366.35,244.37 L367.10,245.04 L367.85,245.72 L368.60,246.40 L369.35,247.08 L370.10,247.75 L370.85,248.41 L371.60,249.04 L372.35,249.64 L373.10,250.21 L373.85,250.75 L374.60,251.24 L375.35,251.68 L376.10,252.07 L376.85,252.40 L377.60,252.66 L378.35,252.86 L379.10,252.99 L379.85,253.04 L380.60,253.01 L381.35,252.90 L382.10,252.71 L382.85,252.46 L383.60,252.14 L384.35,251.76 L385.10,251.32 L385.85,250.83 L386.60,250.28 L387.35,249.70 L388.10,249.07 L388.85,248.40 L389.60,247.70 L390.35,246.97 L391.10,246.23 L391.85,245.48 L392.60,244.72 L393.35,243.96 L394.10,243.21 L394.85,242.49 L395.60,241.79 L396.35,241.12 L397.10,240.49 L397.85,239.91 L398.60,239.38 L399.35,238.90 L400.10,238.49 L400.85,238.12 L401.60,237.82 L402.35,237.57 L403.10,237.39 L403.85,237.26 L404.60,237.19 L405.35,237.19 L406.10,237.24 L406.85,237.36 L407.60,237.54 L408.35,237.79 L409.10,238.09 L409.85,238.44 L410.60,238.85 L411.35,239.30 L412.40,240.01" stroke="#ff4a08" stroke-width="1.30"/>
</g>
<rect x="59" y="17.3" width="133" height="73.1" fill="#fff"/>
<path d="M172.3,22.05 H185.6" stroke="#ff0000" stroke-width="1.2"/>
<path d="M172.3,32.60 H185.6" stroke="#ff00ff" stroke-width="1.2"/>
<path d="M172.3,43.25 H185.6" stroke="#00ff00" stroke-width="1.2"/>
<path d="M172.3,53.80 H185.6" stroke="#00ffff" stroke-width="1.2"/>
<path d="M172.3,64.40 H185.6" stroke="#0000ff" stroke-width="1.2"/>
<path d="M172.3,75.00 H185.6" stroke="#ff7f50" stroke-width="1.2"/>
<path d="M172.3,85.60 H185.6" stroke="#000" stroke-width="1.2"/>
<path d="M72.50,267.00 v-3.6 M90.50,267.00 v-3.6 M108.50,267.00 v-3.6 M126.50,267.00 v-3.6 M197.50,267.00 v-3.6 M269.50,267.00 v-3.6 M340.50,267.00 v-3.6 M55.00,256.50 h3.8 M55.00,238.50 h3.8 M55.00,168.50 h3.8 M55.00,98.50 h3.8 M55.00,28.50 h3.8" stroke="#000" stroke-width="1" fill="none"/>
<path d="M54.5,14.5 H413 M412.5,14 V267.5 M54.5,267.0 H413 M55.0,14 V267.5" fill="none" stroke="#000" stroke-width="1"/>
</svg>
<div style="position:absolute;left:0;top:0;width:433px;height:303px;will-change:transform;transform:translateZ(0);">
<div style="position:absolute;white-space:nowrap;font-size:12px;line-height:1;left:50.20px;transform:translateX(-50%);top:272.95px;">0.0</div>
<div style="position:absolute;white-space:nowrap;font-size:12px;line-height:1;left:71.00px;transform:translateX(-50%);top:272.95px;">0.5</div>
<div style="position:absolute;white-space:nowrap;font-size:12px;line-height:1;left:92.20px;transform:translateX(-50%);top:272.95px;">1.0</div>
<div style="position:absolute;white-space:nowrap;font-size:12px;line-height:1;left:113.30px;transform:translateX(-50%);top:272.95px;">1.5</div>
<div style="position:absolute;white-space:nowrap;font-size:12px;line-height:1;left:134.30px;transform:translateX(-50%);top:272.95px;">2.0</div>
<div style="position:absolute;white-space:nowrap;font-size:12px;line-height:1;left:198.12px;transform:translateX(-50%);top:272.95px;">4.0</div>
<div style="position:absolute;white-space:nowrap;font-size:12px;line-height:1;left:269.38px;transform:translateX(-50%);top:272.95px;">6.0</div>
<div style="position:absolute;white-space:nowrap;font-size:12px;line-height:1;left:340.84px;transform:translateX(-50%);top:272.95px;">8.0</div>
<div style="position:absolute;white-space:nowrap;font-size:12px;line-height:1;left:412.80px;transform:translateX(-50%);top:272.95px;">10.0</div>
<div style="position:absolute;white-space:nowrap;font-size:12px;line-height:1;right:385.30px;top:250.20px;">0.25</div>
<div style="position:absolute;white-space:nowrap;font-size:12px;line-height:1;right:385.30px;top:232.70px;">0.30</div>
<div style="position:absolute;white-space:nowrap;font-size:12px;line-height:1;right:385.30px;top:162.70px;">0.50</div>
<div style="position:absolute;white-space:nowrap;font-size:12px;line-height:1;right:385.30px;top:92.70px;">0.70</div>
<div style="position:absolute;white-space:nowrap;font-size:12px;line-height:1;right:385.30px;top:22.70px;">0.90</div>
<div style="position:absolute;white-space:nowrap;font-size:14px;line-height:1;left:233.80px;transform:translateX(-50%);top:290.47px;letter-spacing:0.15px;">Time</div>
<div style="position:absolute;white-space:nowrap;font-size:17.5px;line-height:1;left:394.30px;transform:translateX(-50%);top:15.94px;">(c)</div>
<div style="position:absolute;white-space:nowrap;font-size:12px;line-height:1;right:268.00px;top:16.00px;">Var X, GP</div>
<div style="position:absolute;white-space:nowrap;font-size:12px;line-height:1;right:268.00px;top:26.55px;">Var X, N=100</div>
<div style="position:absolute;white-space:nowrap;font-size:12px;line-height:1;right:268.00px;top:37.20px;">Var P, GP</div>
<div style="position:absolute;white-space:nowrap;font-size:12px;line-height:1;right:268.00px;top:47.75px;">Var P, N=100</div>
<div style="position:absolute;white-space:nowrap;font-size:12px;line-height:1;right:268.00px;top:58.35px;">Var X<span style="margin:0 -1.2px 0 -1.7px;font-weight:bold"> &middot; </span>Var P, GP</div>
<div style="position:absolute;white-space:nowrap;font-size:12px;line-height:1;right:268.00px;top:68.95px;">Var X<span style="margin:0 -1.2px 0 -1.7px;font-weight:bold"> &middot; </span>Var P, N=100</div>
<div style="position:absolute;white-space:nowrap;font-size:12px;line-height:1;right:268.00px;top:79.55px;">N=100,000</div>
<div style="position:absolute;white-space:nowrap;font-size:14px;line-height:1;letter-spacing:0.2px;left:18.2px;top:136.6px;transform-origin:0 0;transform:rotate(-90deg) translate(-50%,-11.725px);">Variance, Uncertainty product</div>
</div>
</body></html>
